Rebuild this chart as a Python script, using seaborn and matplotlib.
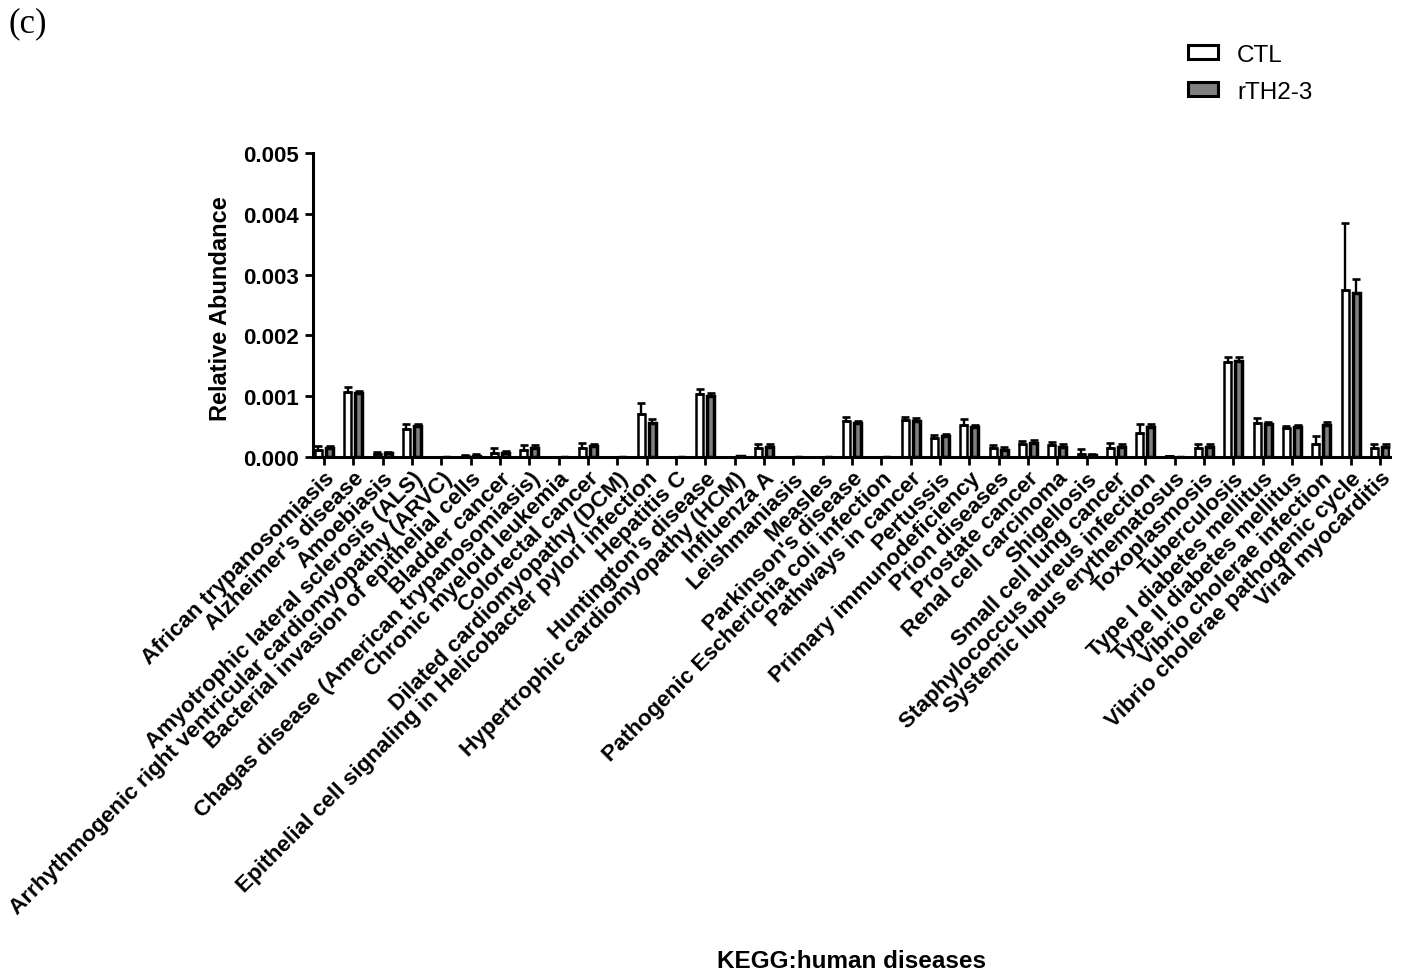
import matplotlib
matplotlib.use("Agg")
import matplotlib.pyplot as plt
import seaborn as sns
import pandas as pd
import numpy as np

# KEGG human-disease pathways
categories = [
    "African trypanosomiasis", "Alzheimer's disease", "Amoebiasis",
    "Amyotrophic lateral sclerosis (ALS)",
    "Arrhythmogenic right ventricular cardiomyopathy (ARVC)",
    "Bacterial invasion of epithelial cells", "Bladder cancer",
    "Chagas disease (American trypanosomiasis)", "Chronic myeloid leukemia",
    "Colorectal cancer", "Dilated cardiomyopathy (DCM)",
    "Epithelial cell signaling in Helicobacter pylori infection",
    "Hepatitis C", "Huntington's disease",
    "Hypertrophic cardiomyopathy (HCM)", "Influenza A", "Leishmaniasis",
    "Measles", "Parkinson's disease", "Pathogenic Escherichia coli infection",
    "Pathways in cancer", "Pertussis", "Primary immunodeficiency",
    "Prion diseases", "Prostate cancer", "Renal cell carcinoma",
    "Shigellosis", "Small cell lung cancer",
    "Staphylococcus aureus infection", "Systemic lupus erythematosus",
    "Toxoplasmosis", "Tuberculosis", "Type I diabetes mellitus",
    "Type II diabetes mellitus", "Vibrio cholerae infection",
    "Vibrio cholerae pathogenic cycle", "Viral myocarditis",
]

groups = ["CTL", "rTH2-3"]

# mean relative abundance (x1e-3)
ctl_mean = [0.12, 1.07, 0.05, 0.46, 0.0, 0.02, 0.07, 0.12, 0.0, 0.15,
            0.0, 0.71, 0.0, 1.04, 0.0, 0.15, 0.0, 0.0, 0.59, 0.0,
            0.61, 0.31, 0.52, 0.15, 0.22, 0.19, 0.05, 0.15, 0.39, 0.01,
            0.14, 1.57, 0.56, 0.47, 0.22, 2.75, 0.15]
rth_mean = [0.15, 1.06, 0.06, 0.51, 0.0, 0.02, 0.07, 0.15, 0.0, 0.18,
            0.0, 0.56, 0.0, 1.01, 0.01, 0.17, 0.0, 0.0, 0.56, 0.0,
            0.60, 0.34, 0.49, 0.12, 0.23, 0.17, 0.03, 0.17, 0.50, 0.0,
            0.17, 1.58, 0.54, 0.49, 0.52, 2.70, 0.17]

# standard deviation (x1e-3), drawn upward only
ctl_sd = [0.06, 0.08, 0.03, 0.09, 0.0, 0.02, 0.07, 0.07, 0.0, 0.08,
          0.0, 0.18, 0.0, 0.08, 0.0, 0.07, 0.0, 0.0, 0.07, 0.0,
          0.05, 0.06, 0.10, 0.05, 0.05, 0.05, 0.08, 0.08, 0.16, 0.0,
          0.08, 0.07, 0.08, 0.04, 0.12, 1.10, 0.06]
rth_sd = [0.03, 0.03, 0.02, 0.04, 0.0, 0.03, 0.03, 0.04, 0.0, 0.04,
          0.0, 0.06, 0.0, 0.04, 0.0, 0.04, 0.0, 0.0, 0.04, 0.0,
          0.04, 0.04, 0.04, 0.04, 0.05, 0.04, 0.02, 0.05, 0.05, 0.0,
          0.04, 0.06, 0.04, 0.04, 0.06, 0.22, 0.04]

scale = 1e-3
df = pd.DataFrame({
    "pathway": categories * 2,
    "group": [groups[0]] * len(categories) + [groups[1]] * len(categories),
    "abundance": [v * scale for v in ctl_mean + rth_mean],
})
sd = {groups[0]: np.array(ctl_sd) * scale, groups[1]: np.array(rth_sd) * scale}

sns.set_style("ticks")
plt.rcParams["font.family"] = ["Liberation Sans", "DejaVu Sans"]
plt.rcParams.update({
    "text.color": "black", "axes.labelcolor": "black",
    "xtick.color": "black", "ytick.color": "black",
    "axes.edgecolor": "black",
})

fig = plt.figure(figsize=(14.12, 9.78), dpi=100)
ax = fig.add_axes([313 / 1412, 1 - 458 / 978, (1390 - 313) / 1412, (458 - 154) / 978])

sns.barplot(
    data=df, x="pathway", y="abundance", hue="group", order=categories,
    hue_order=groups, palette={"CTL": "white", "rTH2-3": "#808080"},
    edgecolor="black", linewidth=1.9, width=0.76, gap=0.38,
    errorbar=None, ax=ax, legend=True,
)

# heavier outline on the treated bars; upward-only SD bars on top
edge_w = {groups[0]: 1.8, groups[1]: 2.5}
for cont, g in zip(ax.containers, groups):
    for p in cont.patches:
        p.set_linewidth(edge_w[g])
    xs = np.array([p.get_x() + p.get_width() / 2 for p in cont.patches])
    hs = np.array([p.get_height() for p in cont.patches])
    ax.errorbar(xs, hs, yerr=[np.zeros_like(hs), sd[g]], fmt="none",
                ecolor="black", elinewidth=1.7, capsize=2.6, capthick=1.9,
                zorder=3)

ax.set_ylim(0, 0.005)
ax.set_xlim(-0.375, len(categories) - 1 + 0.34)
ax.set_yticks([0.0, 0.001, 0.002, 0.003, 0.004, 0.005])
ax.set_yticklabels(["0.000", "0.001", "0.002", "0.003", "0.004", "0.005"])

for s in ["top", "right"]:
    ax.spines[s].set_visible(False)
for s in ["left", "bottom"]:
    ax.spines[s].set_linewidth(2.2)
    ax.spines[s].set_color("black")

ax.tick_params(axis="both", width=2.0, length=6, color="black",
               labelsize=16, pad=4)
ax.tick_params(axis="x", length=5.5, pad=2)
for t in ax.get_yticklabels():
    t.set_fontweight("bold")
ax.set_xticks(range(len(categories)))
ax.set_xticklabels(categories, rotation=45, ha="right", va="top",
                   rotation_mode="anchor", fontweight="bold", fontsize=16.2)

ax.set_ylabel("Relative Abundance", fontsize=17, fontweight="bold")
ax.yaxis.set_label_coords(-0.075, 0.49)
ax.set_xlabel("KEGG:human diseases", fontsize=17.5, fontweight="bold")
ax.xaxis.set_label_coords(0.5, -1.62)

handles, labels = ax.get_legend_handles_labels()
for h in handles:
    h.set_linewidth(2.2)
ax.legend(handles, labels, loc="upper left", frameon=False, fontsize=17.5,
          bbox_to_anchor=(1178 / 1412, 1 - 35 / 978),
          bbox_transform=fig.transFigure, handlelength=1.23, handleheight=0.5,
          labelspacing=0.62, handletextpad=0.8, borderaxespad=0)

fig.text(8 / 1412, 1 - 24 / 978, "(c)", fontsize=25,
         family=["Liberation Serif", "DejaVu Serif"], va="center", ha="left")

fig.savefig("out.png", dpi=100, facecolor="white")
